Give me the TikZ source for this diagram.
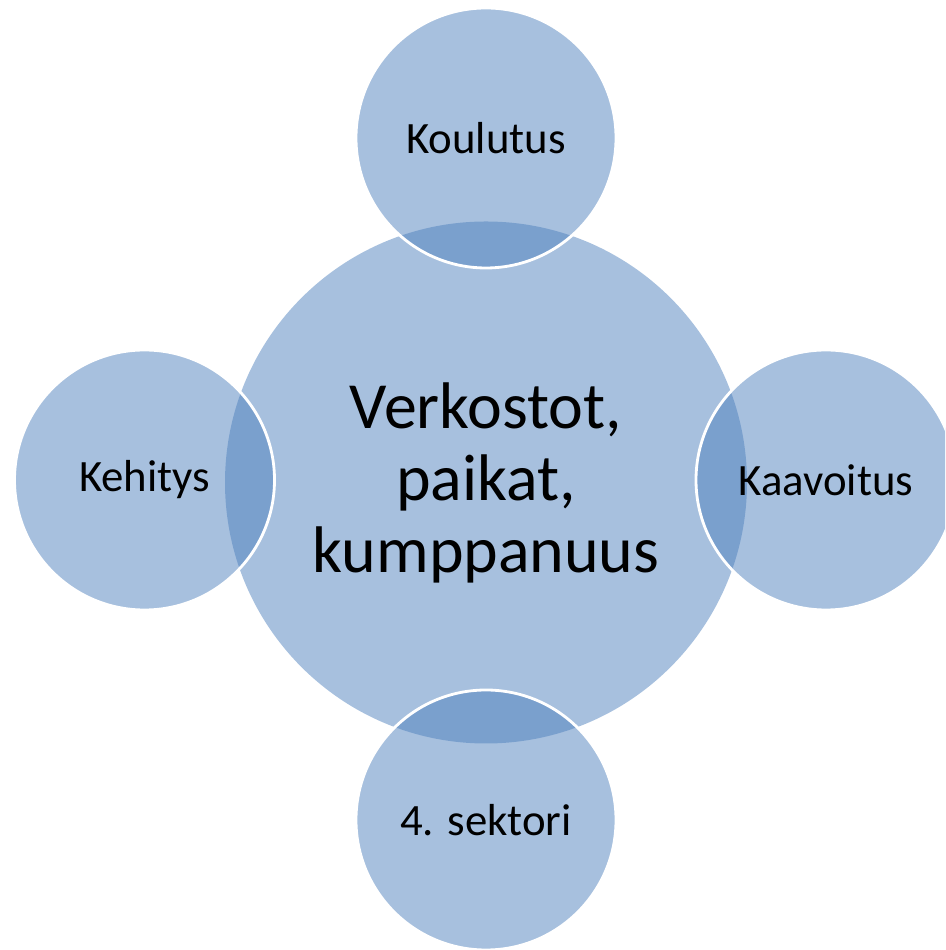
\documentclass[tikz,border=0pt]{standalone}
\usepackage{fontspec}
\setmainfont{Carlito}
\definecolor{accentblue}{HTML}{4F81BD}

\begin{document}
\begin{tikzpicture}[
      hubcircle/.style={
         circle,
         fill=accentblue,
         fill opacity=0.5,
         text opacity=1,
         inner sep=0pt,
         align=center,
         minimum size=10.44cm,
         font=\fontsize{37.5}{41}\selectfont},
      satcircle/.style={
         circle,
         draw=white,
         line width=1.6pt,
         fill=accentblue,
         fill opacity=0.5,
         text opacity=1,
         inner sep=0pt,
         minimum size=5.2cm,
         font=\fontsize{25.5}{30}\selectfont}
      ]
      \clip (0,0) rectangle (18.9,19);
      \node[hubcircle] (hub) at (9.72,9.35) {Verkostot,\\paikat,\\kumppanuus};
      \node[satcircle] (koulutus) at (9.72,16.24) {Koulutus};
      \node[satcircle] (kaavoitus) at (16.52,9.4) {Kaavoitus};
      \node[satcircle] (sektori) at (9.72,2.6) {4. sektori};
      \node[satcircle] (kehitys) at (2.89,9.4) {Kehitys};
\end{tikzpicture}
\end{document}
